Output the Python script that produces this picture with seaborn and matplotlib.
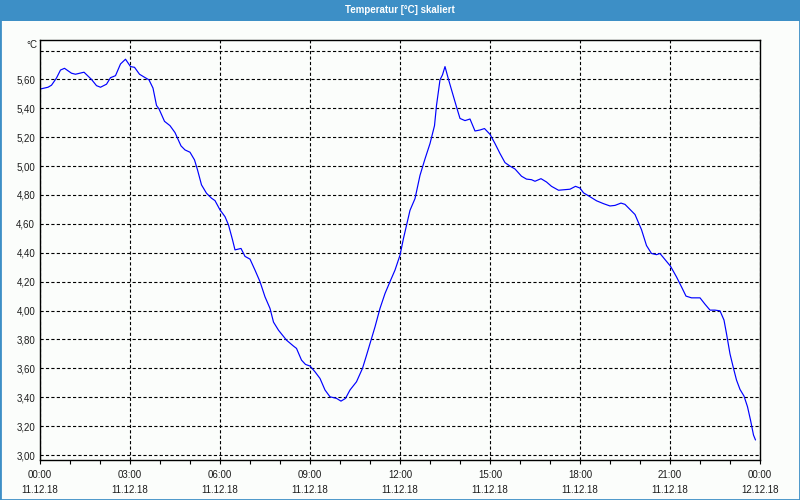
import matplotlib
matplotlib.use("Agg")
import matplotlib.pyplot as plt
import matplotlib.dates as mdates
from matplotlib.patches import Rectangle
from matplotlib.ticker import FixedLocator, FixedFormatter
import pandas as pd
import seaborn as sns

# ---------------- data ----------------
date = "2018-12-11"
times = [
    "00:01", "00:16", "00:23", "00:33", "00:41", "00:49", "01:03", "01:11", "01:28", "01:43",
    "01:53", "02:01", "02:13", "02:21", "02:31", "02:41", "02:51", "03:01", "03:09", "03:19",
    "03:29", "03:38", "03:46", "03:53", "03:58", "04:09", "04:20", "04:30", "04:42", "04:50",
    "05:00", "05:09", "05:15", "05:23", "05:33", "05:43", "05:50", "06:00", "06:10", "06:17",
    "06:25", "06:30", "06:42", "06:50", "07:00", "07:10", "07:20", "07:30", "07:40", "07:47",
    "07:57", "08:13", "08:27", "08:33", "08:43", "08:51", "09:00", "09:10", "09:20", "09:30",
    "09:40", "09:53", "10:02", "10:11", "10:20", "10:33", "10:45", "10:53", "11:02", "11:10",
    "11:20", "11:30", "11:40", "11:50", "12:00", "12:07", "12:13", "12:20", "12:30", "12:40",
    "12:50", "13:00", "13:09", "13:13", "13:20", "13:25", "13:30", "13:37", "13:45", "13:53",
    "14:00", "14:10", "14:20", "14:30", "14:40", "14:49", "15:00", "15:10", "15:20", "15:30",
    "15:40", "15:50", "16:03", "16:13", "16:23", "16:30", "16:42", "16:53", "17:03", "17:17",
    "17:30", "17:40", "17:51", "18:00", "18:07", "18:20", "18:33", "18:47", "19:00", "19:10",
    "19:22", "19:30", "19:40", "19:50", "20:03", "20:13", "20:23", "20:33", "20:40", "20:50",
    "21:01", "21:13", "21:23", "21:32", "21:43", "22:00", "22:10", "22:20", "22:30", "22:40",
    "22:48", "22:53", "23:00", "23:07", "23:13", "23:20", "23:28", "23:35", "23:41", "23:47",
    "23:51",
]
temps = [
    5.534, 5.546, 5.560, 5.610, 5.665, 5.677, 5.643, 5.636, 5.650, 5.600,
    5.557, 5.546, 5.567, 5.612, 5.626, 5.707, 5.740, 5.689, 5.684, 5.636,
    5.615, 5.597, 5.540, 5.420, 5.396, 5.310, 5.280, 5.232, 5.140, 5.112,
    5.096, 5.043, 4.974, 4.870, 4.812, 4.778, 4.761, 4.697, 4.650, 4.593,
    4.490, 4.420, 4.430, 4.375, 4.356, 4.280, 4.200, 4.095, 4.015, 3.920,
    3.864, 3.795, 3.754, 3.738, 3.657, 3.627, 3.616, 3.576, 3.530, 3.450,
    3.403, 3.392, 3.373, 3.392, 3.450, 3.507, 3.600, 3.690, 3.795, 3.887,
    4.015, 4.118, 4.200, 4.280, 4.383, 4.500, 4.590, 4.694, 4.775, 4.936,
    5.050, 5.156, 5.280, 5.420, 5.597, 5.632, 5.689, 5.600, 5.505, 5.410,
    5.330, 5.315, 5.326, 5.243, 5.250, 5.260, 5.220, 5.156, 5.087, 5.024,
    5.000, 4.980, 4.930, 4.910, 4.906, 4.895, 4.913, 4.890, 4.860, 4.833,
    4.837, 4.840, 4.860, 4.848, 4.815, 4.788, 4.760, 4.740, 4.724, 4.728,
    4.744, 4.735, 4.700, 4.665, 4.560, 4.450, 4.395, 4.387, 4.395, 4.353,
    4.307, 4.233, 4.164, 4.100, 4.088, 4.088, 4.044, 4.003, 4.003, 3.998,
    3.934, 3.840, 3.700, 3.600, 3.519, 3.454, 3.408, 3.334, 3.242, 3.138,
    3.104,
]
y_ticks = [3.0, 3.2, 3.4, 3.6, 3.8, 4.0, 4.2, 4.4, 4.6, 4.8, 5.0, 5.2, 5.4, 5.6, 5.8]
y_tick_labels = ["3,00", "3,20", "3,40", "3,60", "3,80", "4,00", "4,20", "4,40",
                 "4,60", "4,80", "5,00", "5,20", "5,40", "5,60", ""]
title = "Temperatur [°C] skaliert"
unit = "°C"
x_start = "2018-12-11 00:00"
x_end = "2018-12-12 00:00"

df = pd.DataFrame({
    "time": pd.to_datetime([f"{date} {t}" for t in times]),
    "temp": temps,
})

# ---------------- style ----------------
sns.set_style("white")
plt.rcParams["font.family"] = ["Liberation Sans", "DejaVu Sans"]
plt.rcParams["lines.scale_dashes"] = False

BG = "#fbfdfb"
BLUE_BAR = "#3d8fc6"
TXT = "#1c1c1c"

fig = plt.figure(figsize=(8, 5), dpi=100, facecolor=BG)
ax = fig.add_axes([40 / 800, 40 / 500, 720 / 800, 420 / 500])
ax.set_facecolor(BG)

sns.lineplot(data=df, x="time", y="temp", ax=ax, color="#0000ff", linewidth=0.85)

ax.set_xlim(pd.Timestamp(x_start), pd.Timestamp(x_end))
ax.set_ylim(2.9654, 5.873)

# y axis
ax.yaxis.set_major_locator(FixedLocator(y_ticks))
ax.yaxis.set_major_formatter(FixedFormatter(y_tick_labels))
ax.tick_params(axis="y", length=0, pad=3.5, labelsize=7, labelcolor=TXT)

# x axis
ax.xaxis.set_major_locator(mdates.HourLocator(byhour=range(0, 24, 3)))
ax.xaxis.set_minor_locator(mdates.HourLocator())
ax.xaxis.set_major_formatter(mdates.DateFormatter("%H:%M\n%d.%m.%y"))
ax.tick_params(axis="x", which="both", direction="out", length=3, width=0.8,
               color="black", bottom=True)
ax.tick_params(axis="x", which="major", pad=4, labelsize=7, labelcolor=TXT)
for lbl in ax.get_xticklabels():
    lbl.set_linespacing(1.65)

ax.set_xlabel("")
ax.set_ylabel("")

# grid
ax.grid(True, which="major", axis="both", color="black", linewidth=0.8,
        linestyle=(0, (2.3, 1.6)))

for sp in ax.spines.values():
    sp.set_visible(True)
    sp.set_color("black")
    sp.set_linewidth(1.0)

# unit label
fig.text(37 / 800, 1 - 45 / 500, unit, ha="right", va="center", fontsize=7, color=TXT)

# title bar
fig.patches.append(Rectangle((0, 1 - 21 / 500), 1, 21 / 500, transform=fig.transFigure,
                             facecolor=BLUE_BAR, edgecolor="none", zorder=0))
fig.text(0.5, 1 - 10 / 500, title, ha="center", va="center", fontsize=7,
         fontweight="bold", color="white")

# frame
fig.patches.append(Rectangle((0, 0), 1, 1, transform=fig.transFigure, fill=False,
                             edgecolor=BLUE_BAR, linewidth=2.0, zorder=5))

fig.savefig("out.png", dpi=100, facecolor=BG)
